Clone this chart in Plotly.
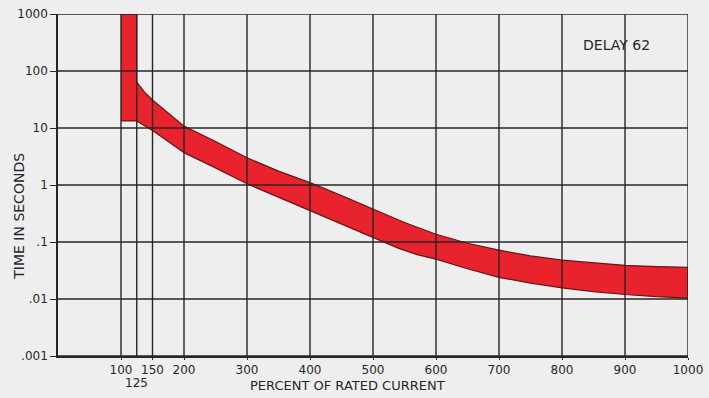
import plotly.graph_objects as go

# percent of rated current vs time (seconds)
upper_x = [125, 137, 150, 175, 200, 250, 300, 350, 400, 450, 500, 550, 600, 650, 700, 750, 800, 850, 900, 950, 1000]
upper_t = [64, 43, 31, 18, 10.8, 5.8, 3.0, 1.75, 1.1, 0.65, 0.38, 0.22, 0.137, 0.095, 0.072, 0.057, 0.048, 0.043, 0.039, 0.037, 0.036]

lower_x = [100, 125, 150, 175, 200, 250, 300, 350, 400, 450, 500, 540, 570, 600, 650, 700, 750, 800, 850, 900, 950, 1000]
lower_t = [13.3, 13.3, 9.0, 5.8, 3.7, 2.0, 1.05, 0.62, 0.36, 0.21, 0.12, 0.078, 0.06, 0.05, 0.034, 0.024, 0.019, 0.0157, 0.0135, 0.012, 0.011, 0.0104]

top_t = 1000
x_grid = [100, 125, 150, 200, 300, 400, 500, 600, 700, 800, 900, 1000]
x_ticks = [100, 150, 200, 300, 400, 500, 600, 700, 800, 900, 1000]
x_labels = ["100", "150", "200", "300", "400", "500", "600", "700", "800", "900", "1000"]
y_ticks = [0.001, 0.01, 0.1, 1, 10, 100, 1000]
y_labels = [".001", ".01", ".1", "1", "10", "100", "1000"]

ink = "#262626"
paper = "#eeeeee"

# closed outline of the band: vertical strip, upper curve, then lower curve back
band_x = [lower_x[0], upper_x[0]] + upper_x + lower_x[::-1]
band_y = [top_t, top_t] + upper_t + lower_t[::-1]

fig = go.Figure()
fig.add_trace(go.Scatter(
    x=band_x, y=band_y,
    mode="lines", fill="toself",
    fillcolor="#e8232d",
    line=dict(color="#6b1414", width=1.2),
    hoverinfo="skip", showlegend=False
))

# grid drawn above the red band as in the original
shapes = []
for v in x_grid:
    shapes.append(dict(type="line", xref="x", yref="paper", x0=v, x1=v, y0=0, y1=1,
                       line=dict(color=ink, width=1.4), layer="above"))
for v in y_ticks:
    shapes.append(dict(type="line", xref="paper", yref="y", x0=0, x1=1, y0=v, y1=v,
                       line=dict(color=ink, width=1.4), layer="above"))

fig.update_layout(
    width=709, height=398,
    margin=dict(l=58, r=21, t=14, b=42),
    paper_bgcolor=paper, plot_bgcolor=paper,
    showlegend=False,
    shapes=shapes,
    font=dict(family="DejaVu Sans", size=12, color=ink),
    xaxis=dict(
        range=[0, 1000], tickvals=x_ticks, ticktext=x_labels,
        showgrid=False, zeroline=False, automargin=False,
        showline=True, linecolor=ink, linewidth=1.6,
        ticks="outside", ticklen=2, tickcolor=ink,
        tickfont=dict(size=12),
    ),
    yaxis=dict(
        type="log", range=[-3, 3], tickvals=y_ticks, ticktext=y_labels,
        showgrid=False, zeroline=False, automargin=False,
        showline=True, linecolor=ink, linewidth=1.6,
        ticks="outside", ticklen=6, tickcolor=ink,
        tickfont=dict(size=12),
    ),
    annotations=[
        dict(text="125", x=125, xref="x", y=-0.052, yref="paper", showarrow=False,
             yanchor="top", font=dict(size=12)),
        dict(text="PERCENT OF RATED CURRENT", x=0.46, xref="paper", y=-0.058, yref="paper",
             showarrow=False, yanchor="top", font=dict(size=13)),
        dict(text="TIME IN SECONDS", x=-0.062, xref="paper", y=0.41, yref="paper",
             textangle=-90, showarrow=False, xanchor="center", font=dict(size=14)),
        dict(text="DELAY 62", x=887, xref="x", y=2.46, yref="y", showarrow=False,
             font=dict(size=14, color=ink)),
    ],
)

fig.write_html("out.html", config={"displayModeBar": False},
               post_script="document.body.style.margin='0';")
